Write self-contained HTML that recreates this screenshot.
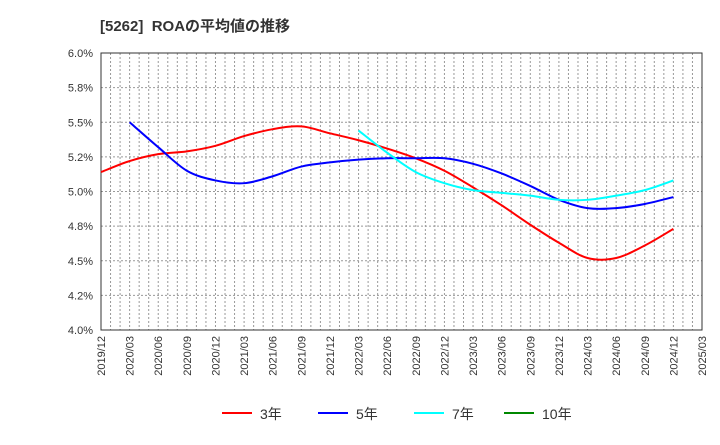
<!DOCTYPE html>
<html><head><meta charset="utf-8"><style>
body{margin:0;background:#fff;}
svg text{font-family:"Liberation Sans","Noto Sans CJK JP",sans-serif;}
</style></head><body>
<svg id="c" width="720" height="440" xmlns="http://www.w3.org/2000/svg">
<text x="100" y="31" font-size="15" font-weight="bold" fill="#333">[5262]&#160; ROAの平均値の推移</text>
<g id="grid"></g><g id="axes"></g><g id="series"></g><g id="legend"></g>
</svg>
<script>
const xLabels=["2019/12","2020/03","2020/06","2020/09","2020/12","2021/03","2021/06","2021/09","2021/12","2022/03","2022/06","2022/09","2022/12","2023/03","2023/06","2023/09","2023/12","2024/03","2024/06","2024/09","2024/12","2025/03"];
const yTicks=[4.0,4.25,4.5,4.75,5.0,5.25,5.5,5.75,6.0];
const yTickLabels=["4.0%","4.2%","4.5%","4.8%","5.0%","5.2%","5.5%","5.8%","6.0%"];
const roa3=[5.14,5.22,5.27,5.29,5.33,5.40,5.45,5.47,5.42,5.37,5.31,5.24,5.15,5.03,4.90,4.76,4.63,4.52,4.52,4.61,4.73];
const roa5=[null,5.50,5.32,5.15,5.08,5.06,5.11,5.18,5.21,5.23,5.24,5.24,5.24,5.20,5.13,5.04,4.94,4.88,4.88,4.91,4.96];
const roa7=[null,null,null,null,null,null,null,null,null,5.44,5.28,5.14,5.06,5.01,4.99,4.97,4.94,4.94,4.97,5.01,5.08];
const roa10=[];
const L=101,R=702,T=53,B=330;
const xs=i=>L+i*(R-L)/(xLabels.length-1);
const ys=v=>B-(v-4)/2*(B-T);
const NS="http://www.w3.org/2000/svg";
function mk(tag,attrs,parent){const e=document.createElementNS(NS,tag);for(const k in attrs)e.setAttribute(k,attrs[k]);parent.appendChild(e);return e;}
const grid=document.getElementById('grid'),axes=document.getElementById('axes'),ser=document.getElementById('series'),leg=document.getElementById('legend');
const nMonths=(xLabels.length-1)*3;
for(let m=1;m<nMonths;m++){const x=L+m*(R-L)/nMonths;
const g=mk('line',{x1:x,x2:x,y1:T,y2:B,stroke:'#999','stroke-dasharray':'2,2','stroke-width':1},grid);

}
yTicks.forEach((v,i)=>{const y=ys(v);
if(i>0&&i<yTicks.length-1){const g=mk('line',{x1:L,x2:R,y1:y,y2:y,stroke:'#999','stroke-dasharray':'2,2'},grid);

}
const t=mk('text',{x:L-8,y:y+4,'text-anchor':'end','font-size':11,fill:'#333'},axes);t.textContent=yTickLabels[i];

});
const fr=mk('rect',{x:L,y:T,width:R-L,height:B-T,fill:'none',stroke:'#333'},axes);


xLabels.forEach((l,i)=>{const x=xs(i);const t=mk('text',{x:x+4,y:B+6,'text-anchor':'end','font-size':11,fill:'#333',transform:`rotate(-90 ${x+4} ${B+6})`},axes);t.textContent=l;

});
function path(data){const p=[];data.forEach((v,i)=>{if(v!=null)p.push([xs(i),ys(v)]);});if(p.length<2)return '';
let d=`M${p[0][0]},${p[0][1]}`;for(let i=0;i<p.length-1;i++){const p0=p[i-1]||p[i],p1=p[i],p2=p[i+1],p3=p[i+2]||p2;
d+=` C${p1[0]+(p2[0]-p0[0])/6},${p1[1]+(p2[1]-p0[1])/6} ${p2[0]-(p3[0]-p1[0])/6},${p2[1]-(p3[1]-p1[1])/6} ${p2[0]},${p2[1]}`;}return d;}
const series=[[roa3,'#f00','3年','series-3y'],[roa5,'#00f','5年','series-5y'],[roa7,'#0ff','7年','series-7y'],[roa10,'#080','10年','series-10y']];
series.forEach(([d,c,n,name],k)=>{const dd=path(d);if(dd){const e=mk('path',{d:dd,fill:'none',stroke:c,'stroke-width':2},ser);

}
const lx=[222,318,414,504][k];
const g=mk('g',{},leg);


mk('line',{x1:lx,x2:lx+30,y1:413,y2:413,stroke:c,'stroke-width':2},g);
const t=mk('text',{x:lx+38,y:419,'font-size':14,fill:'#333'},g);t.textContent=n;});
</script>
</body></html>
